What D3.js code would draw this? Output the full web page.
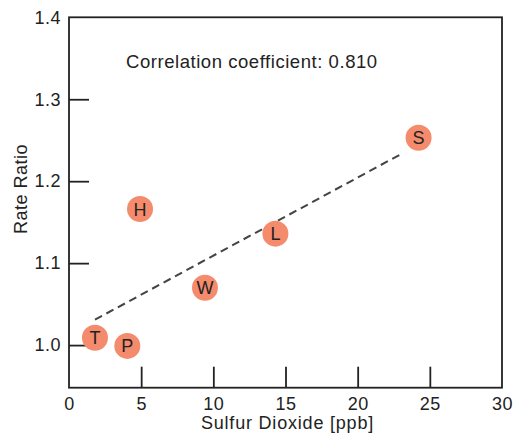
<!DOCTYPE html>
<html>
<head>
<meta charset="utf-8">
<script src="https://cdn.jsdelivr.net/npm/d3@7"></script>
<style>
  html, body { margin: 0; padding: 0; background: #fff; }
  svg text { font-family: "Liberation Sans", Arial, Helvetica, sans-serif; fill: #222; }
</style>
</head>
<body>
<svg id="chart" width="518" height="441"></svg>
<script>
// ---- data ----
const labels   = ["T", "P", "W", "H", "L", "S"];
const so2      = [1.80, 4.04, 9.42, 4.92, 14.30, 24.22];
const rateRatio = [1.009, 0.999, 1.070, 1.166, 1.136, 1.253];
const fitX     = [1.80, 23.15];
const fitY     = [1.031, 1.2345];
const xTicks   = [0, 5, 10, 15, 20, 25, 30];
const yTicks   = [1.0, 1.1, 1.2, 1.3, 1.4];
const xDomain  = [0, 30];
const yDomain  = [0.948, 1.4];
const annotation = "Correlation coefficient: 0.810";
const xTitle = "Sulfur Dioxide [ppb]";
const yTitle = "Rate Ratio";

// ---- layout ----
const L = 69, R = 502, T = 17.3, B = 387.7;
const svg = d3.select("#chart");
const x = d3.scaleLinear().domain(xDomain).range([L, R]);
const y = d3.scaleLinear().domain(yDomain).range([B, T]);

// frame
svg.append("rect")
  .attr("x", L).attr("y", T).attr("width", R - L).attr("height", B - T)
  .attr("fill", "none").attr("stroke", "#222").attr("stroke-width", 1.8);

// x axis (ticks inward)
const xAxis = d3.axisBottom(x).tickValues(xTicks).tickSizeInner(-21).tickSizeOuter(0)
  .tickFormat(d3.format("d"));
const gx = svg.append("g").attr("transform", `translate(0,${B})`).call(xAxis);
gx.select(".domain").remove();
gx.selectAll(".tick line").attr("stroke", "#222").attr("stroke-width", 1.8)
  .attr("display", d => (d === xDomain[0] || d === xDomain[1]) ? "none" : null);
gx.selectAll(".tick text").attr("font-size", 18).attr("fill", "#222").attr("letter-spacing", 0.5)
  .attr("y", 22.5).attr("dy", 0).attr("font-family", "Liberation Sans, Arial, sans-serif");

// y axis (ticks inward)
const yAxis = d3.axisLeft(y).tickValues(yTicks).tickSizeInner(-20).tickSizeOuter(0)
  .tickFormat(d3.format(".1f"));
const gy = svg.append("g").attr("transform", `translate(${L},0)`).call(yAxis);
gy.select(".domain").remove();
gy.selectAll(".tick line").attr("stroke", "#222").attr("stroke-width", 1.8)
  .attr("display", d => d === yDomain[1] ? "none" : null);
gy.selectAll(".tick text").attr("font-size", 18).attr("fill", "#222").attr("letter-spacing", 0.5)
  .attr("x", -8).attr("font-family", "Liberation Sans, Arial, sans-serif");

// axis titles
svg.append("text").attr("x", (L + R) / 2 + 2).attr("y", 429)
  .attr("text-anchor", "middle").attr("font-size", 18).attr("letter-spacing", 0.8)
  .text(xTitle);
svg.append("text").attr("transform", `translate(27,189) rotate(-90)`)
  .attr("text-anchor", "middle").attr("font-size", 18).attr("letter-spacing", 0.5)
  .text(yTitle);

// annotation
svg.append("text").attr("x", 126).attr("y", 68).attr("font-size", 18.5).attr("letter-spacing", 0.55)
  .text(annotation);

// fit line
const fit = fitX.map((v, i) => ({ x: v, y: fitY[i] }));
svg.append("path").datum(fit)
  .attr("d", d3.line().x(d => x(d.x)).y(d => y(d.y)))
  .attr("fill", "none").attr("stroke", "#444").attr("stroke-width", 2)
  .attr("stroke-dasharray", "8,5");

// points
const pts = labels.map((l, i) => ({ label: l, x: so2[i], y: rateRatio[i] }));
const g = svg.append("g").selectAll("g").data(pts).join("g")
  .attr("transform", d => `translate(${x(d.x)},${y(d.y)})`);
g.append("circle").attr("r", 13).attr("fill", "#f58b6d");
g.append("text").attr("text-anchor", "middle").attr("dy", "0.36em")
  .attr("font-size", 18).attr("fill", "#111").text(d => d.label);
</script>
</body>
</html>
